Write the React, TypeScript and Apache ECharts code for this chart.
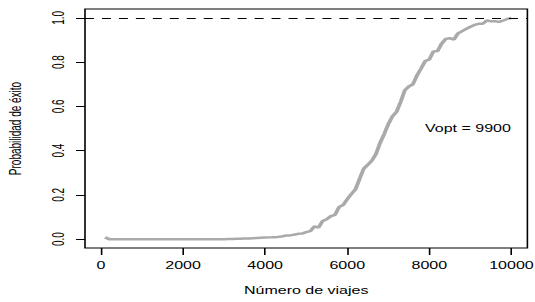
import React, { useEffect, useRef } from "react";
import * as echarts from "echarts";

// Number of trips (x) and estimated probability of success (y)
const trips = [
  100, 200, 300, 400, 500, 600, 700, 800, 900, 1000,
  1100, 1200, 1300, 1400, 1500, 1600, 1700, 1800, 1900, 2000,
  2100, 2200, 2300, 2400, 2500, 2600, 2700, 2800, 2900, 3000,
  3100, 3200, 3300, 3400, 3500, 3600, 3700, 3800, 3900, 4000,
  4100, 4200, 4300, 4400, 4500, 4600, 4700, 4800, 4900, 5000,
  5100, 5200, 5300, 5400, 5500, 5600, 5700, 5800, 5900, 6000,
  6100, 6200, 6300, 6400, 6500, 6600, 6700, 6800, 6900, 7000,
  7100, 7200, 7300, 7400, 7500, 7600, 7700, 7800, 7900, 8000,
  8100, 8200, 8300, 8400, 8500, 8600, 8700, 8800, 8900, 9000,
  9100, 9200, 9300, 9400, 9500, 9600, 9700, 9800, 9900, 10000,
];

const successProb = [
  0.008, 0, 0, 0, 0, 0, 0, 0, 0, 0,
  0, 0, 0, 0, 0, 0, 0, 0, 0, 0,
  0, 0, 0, 0, 0, 0, 0, 0, 0, 0,
  0.001, 0.001, 0.002, 0.002, 0.003, 0.003, 0.004, 0.005, 0.006, 0.007,
  0.008, 0.009, 0.010, 0.012, 0.016, 0.017, 0.020, 0.024, 0.025, 0.032,
  0.036, 0.058, 0.052, 0.082, 0.090, 0.104, 0.110, 0.145, 0.154, 0.180,
  0.204, 0.225, 0.272, 0.318, 0.336, 0.355, 0.385, 0.435, 0.475, 0.520,
  0.555, 0.575, 0.620, 0.672, 0.690, 0.700, 0.740, 0.772, 0.805, 0.812,
  0.848, 0.850, 0.884, 0.905, 0.908, 0.902, 0.930, 0.940, 0.950, 0.960,
  0.968, 0.973, 0.973, 0.988, 0.985, 0.985, 0.982, 0.988, 0.995, 1.000,
];

const xTicks = [0, 2000, 4000, 6000, 8000, 10000];
const yTicks = [0, 0.2, 0.4, 0.6, 0.8, 1.0];
const referenceLevel = 1;
const annotationText = "Vopt = 9900";
const annotationAt = [8940, 0.5];

const xTitle = "Número de viajes";
const yTitle = "Probabilidad de éxito";

const STRETCH = 1.6;
const W = 535;
const H = 302;
const FONT = "Liberation Sans";

export default function App() {
  const ref = useRef<HTMLDivElement>(null);

  useEffect(() => {
    if (!ref.current) return;
    const chart = echarts.init(ref.current, null, { renderer: "svg" });
    const data = trips.map((t, i) => [t, successProb[i]]);
    chart.setOption({
      animation: false,
      backgroundColor: "#ffffff",
      grid: {
        left: 85 / STRETCH,
        right: 7 / STRETCH,
        top: 9,
        bottom: 54,
        show: true,
        borderColor: "#000",
        borderWidth: 1,
        backgroundColor: "transparent",
        containLabel: false,
        outerBoundsMode: "none",
      },
      xAxis: {
        type: "value",
        min: -389,
        max: 10389,
        name: xTitle,
        nameLocation: "middle",
        nameGap: 38,
        nameTextStyle: { fontFamily: FONT, fontSize: 10, color: "#000" },
        axisLine: { show: false, onZero: false },
        axisTick: {
          show: true,
          length: 7,
          customValues: xTicks,
          lineStyle: { color: "#000", width: 1 },
        },
        axisLabel: {
          show: true,
          customValues: xTicks,
          margin: 13,
          fontFamily: FONT,
          fontSize: 10,
          color: "#000",
          formatter: (v: number) => String(v),
        },
        splitLine: { show: false },
      },
      yAxis: {
        type: "value",
        min: -0.04,
        max: 1.04,
        name: yTitle,
        nameLocation: "middle",
        nameRotate: 90,
        nameGap: 38.5,
        nameTextStyle: { fontFamily: FONT, fontSize: 10, color: "#000" },
        axisLine: { show: false, onZero: false },
        axisTick: {
          show: true,
          length: 5.6,
          customValues: yTicks,
          lineStyle: { color: "#000", width: 1 },
        },
        axisLabel: {
          show: true,
          customValues: yTicks,
          rotate: 90,
          margin: 11.5,
          fontFamily: FONT,
          fontSize: 10,
          color: "#000",
          formatter: (v: number) => v.toFixed(1),
        },
        splitLine: { show: false },
      },
      series: [
        {
          type: "line",
          data,
          symbol: "none",
          smooth: false,
          lineStyle: { color: "#aaaaaa", width: 2.5 },
          markLine: {
            silent: true,
            symbol: ["none", "none"],
            label: { show: false },
            lineStyle: { color: "#000", width: 1, type: [5.6, 5] },
            data: [{ yAxis: referenceLevel }],
          },
          markPoint: {
            silent: true,
            symbol: "circle",
            symbolSize: 0,
            itemStyle: { color: "transparent" },
            label: {
              show: true,
              position: "inside",
              formatter: annotationText,
              fontFamily: FONT,
              fontSize: 10,
              color: "#000",
            },
            data: [{ coord: annotationAt }],
          },
        },
      ],
    });
    return () => chart.dispose();
  }, []);

  return (
    <div
      style={{
        position: "absolute",
        left: 0,
        top: 0,
        width: W,
        height: H,
        overflow: "hidden",
        background: "#fff",
      }}
    >
      <div
        ref={ref}
        style={{
          width: W / STRETCH,
          height: H,
          transform: `scaleX(${STRETCH})`,
          transformOrigin: "0 0",
        }}
      />
    </div>
  );
}
